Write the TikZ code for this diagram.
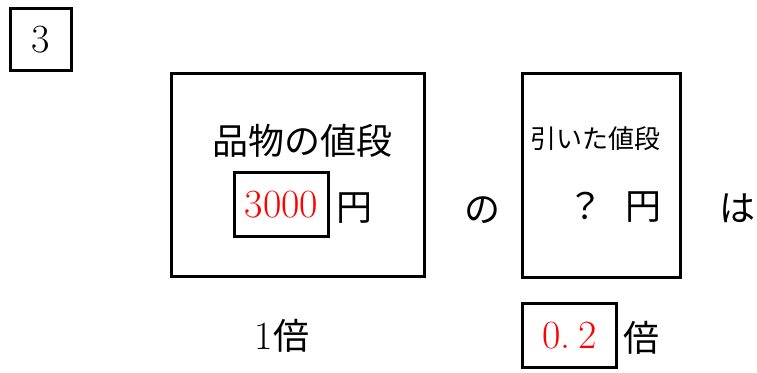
\documentclass[tikz,border=0pt]{standalone}
\usepackage{fontspec}
\newfontfamily\jp{Noto Sans CJK JP}
\begin{document}
\begin{tikzpicture}[x=1pt,y=-1pt,
  box/.style={draw=black,line width=2.8pt,inner sep=0pt,rectangle},
  big/.style={font=\fontsize{40}{44}\selectfont},
  jpbig/.style={font=\jp\fontsize{36}{40}\selectfont,inner sep=0pt},
  jpsmall/.style={font=\jp\fontsize{26}{30}\selectfont,inner sep=0pt},
  redtxt/.style={text=red}]
\useasboundingbox (0,0) rectangle (757,372);
\node[box,big,minimum width=61pt,minimum height=62pt] (n3) at (41,39.5) {3};
\node[box,minimum width=253pt,minimum height=203pt] (b1) at (298,175) {};
\node[jpbig] (t1) at (302,141) {品物の値段};
\node[box,big,redtxt,minimum width=94pt,minimum height=64pt] (v1) at (281.5,204.5) {3000};
\node[jpbig] (y1) at (354,208) {円};
\node[jpbig] (no) at (482,210) {の};
\node[box,minimum width=158pt,minimum height=204pt] (b2) at (601.5,175.5) {};
\node[jpsmall] (t2) at (595,139) {引いた値段};
\node[jpbig] (q) at (585,206) {？};
\node[jpbig] (y2) at (643,207) {円};
\node[jpbig] (ha) at (737,208) {は};
\node[inner sep=0pt] (one) at (282,336) {\fontsize{40}{44}\selectfont 1\jp\fontsize{36}{40}\selectfont 倍};
\node[box,big,redtxt,minimum width=94pt,minimum height=64pt] (v2) at (569.5,335.5) {0.\hspace{8pt}2};
\node[jpbig] (bai) at (641,338) {倍};
\end{tikzpicture}
\end{document}
